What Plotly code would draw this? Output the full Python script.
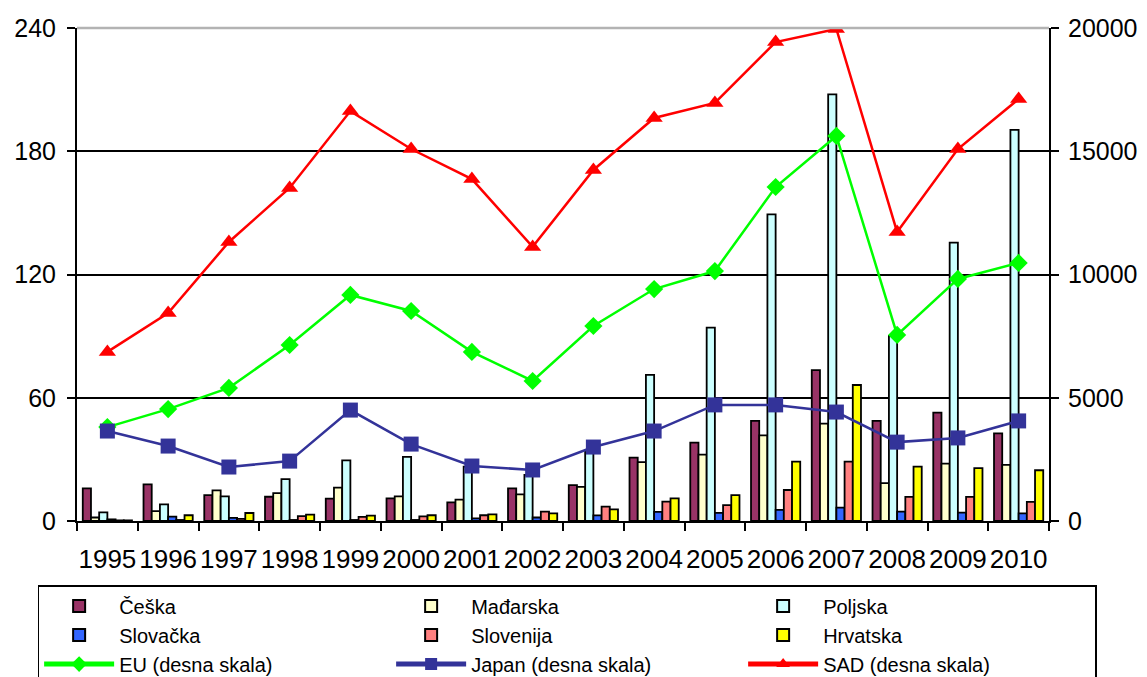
import plotly.graph_objects as go

years = [str(y) for y in range(1995, 2011)]

# bars, left axis
ceska = [15.9, 17.8, 12.6, 11.8, 10.9, 11.0, 9.1, 15.9, 17.5, 30.9, 38.2, 48.7, 73.4, 48.7, 52.8, 42.7]
madarska = [1.7, 4.8, 14.9, 13.6, 16.2, 12.0, 10.4, 13.0, 16.6, 28.7, 32.3, 41.7, 47.4, 18.4, 27.9, 27.3]
poljska = [4.2, 8.1, 12.0, 20.4, 29.5, 31.2, 26.5, 22.4, 34.6, 71.1, 94.1, 149.3, 207.7, 90.1, 135.5, 190.4]
slovacka = [0.8, 2.1, 1.5, 0.5, 0.5, 0.5, 1.3, 1.7, 2.7, 4.4, 4.0, 5.4, 6.5, 4.6, 4.1, 3.7]
slovenija = [0.3, 0.5, 1.0, 2.4, 2.0, 2.3, 2.8, 4.6, 7.0, 9.4, 7.7, 15.1, 28.9, 11.7, 11.7, 9.3]
hrvatska = [0.3, 2.8, 3.9, 3.1, 2.6, 2.8, 3.2, 3.7, 5.7, 11.0, 12.6, 28.9, 66.2, 26.5, 25.7, 24.7]

# lines, right axis
eu = [3810, 4540, 5400, 7140, 9170, 8520, 6860, 5680, 7910, 9410, 10140, 13550, 15620, 7550, 9820, 10470]
japan = [3650, 3040, 2190, 2430, 4500, 3120, 2230, 2070, 3000, 3650, 4710, 4710, 4420, 3200, 3370, 4060]
sad = [6860, 8440, 11320, 13510, 16630, 15090, 13870, 11120, 14240, 16350, 16960, 19430, 19960, 11720, 15090, 17120]

bar_series = [
    ("Češka", ceska, "#993366"),
    ("Mađarska", madarska, "#FFFFCC"),
    ("Poljska", poljska, "#CCFFFF"),
    ("Slovačka", slovacka, "#3366FF"),
    ("Slovenija", slovenija, "#FF8080"),
    ("Hrvatska", hrvatska, "#FFFF00"),
]
line_series = [
    ("EU (desna skala)", eu, "#00FF00", "diamond", 14),
    ("Japan (desna skala)", japan, "#333399", "square", 15),
    ("SAD (desna skala)", sad, "#FF0000", "triangle-up", 15),
]

fig = go.Figure()

for name, vals, color in bar_series:
    fig.add_trace(go.Bar(
        x=years, y=vals, name=name,
        marker=dict(color=color, line=dict(color="black", width=1.8)),
        yaxis="y",
    ))

for name, vals, color, symbol, size in line_series:
    fig.add_trace(go.Scatter(
        x=years, y=vals, name=name, mode="lines+markers",
        line=dict(color=color, width=2.5),
        marker=dict(symbol=symbol, size=size, color=color),
        yaxis="y2",
    ))

font = "Liberation Sans, Arial, sans-serif"

fig.update_layout(
    width=1147, height=677,
    margin=dict(l=77, r=98, t=28, b=156, autoexpand=False),
    paper_bgcolor="white", plot_bgcolor="white",
    font=dict(family=font, size=25, color="black"),
    barmode="group", bargap=0.19, bargroupgap=0,
    showlegend=True,
    legend=dict(
        orientation="h", x=1.049, xanchor="right", y=-0.130, yanchor="top",
        itemwidth=70, entrywidth=267, entrywidthmode="pixels",
        bordercolor="black", borderwidth=1.5, bgcolor="white",
        font=dict(family=font, size=20), traceorder="normal",
        tracegroupgap=0, itemsizing="constant",
    ),
    xaxis=dict(
        type="category", range=[-0.5, len(years) - 0.5],
        showline=True, linecolor="black", linewidth=2,
        ticks="outside", tickson="boundaries", ticklen=8, tickwidth=2, tickcolor="black",
        showgrid=False, tickangle=0, tickfont=dict(size=26), ticklabelstandoff=14,
    ),
    yaxis=dict(
        range=[0, 240], tickvals=[0, 60, 120, 180, 240],
        showline=True, linecolor="black", linewidth=2,
        ticks="outside", ticklen=8, tickwidth=2, tickcolor="black",
        showgrid=True, gridcolor="black", gridwidth=2, zeroline=False,
        tickfont=dict(size=25), ticklabelstandoff=6,
    ),
    yaxis2=dict(
        range=[0, 20000], tickvals=[0, 5000, 10000, 15000, 20000], tickformat="d",
        overlaying="y", side="right",
        showline=True, linecolor="black", linewidth=2,
        ticks="outside", ticklen=8, tickwidth=2, tickcolor="black",
        showgrid=False, zeroline=False, tickfont=dict(size=25), ticklabelstandoff=4,
    ),
    shapes=[dict(type="line", xref="paper", yref="paper", x0=0, x1=1, y0=1, y1=1,
                 line=dict(color="#b3b3b3", width=2.5), layer="above")],
)

fig.write_html("out.html", config={"displayModeBar": False},
               post_script="document.body.style.margin='0px';")
